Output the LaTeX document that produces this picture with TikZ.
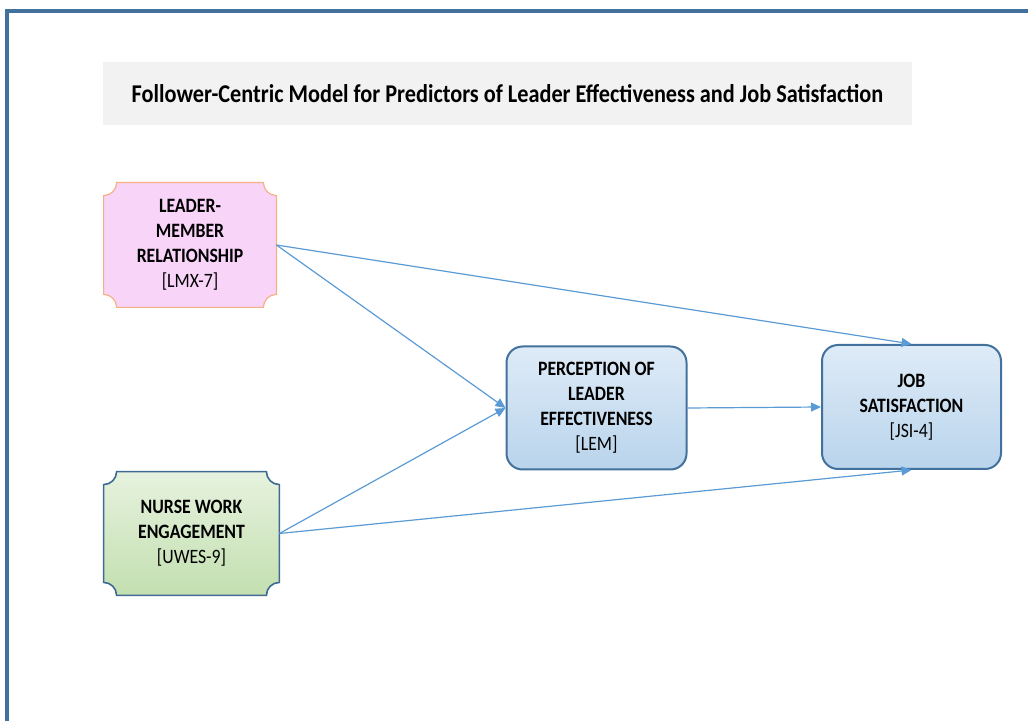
\documentclass[tikz,border=0pt]{standalone}
\usepackage{fontspec}
\setmainfont{Carlito}[FakeStretch=0.87]
\usepackage{tikz}
\usetikzlibrary{arrows.meta, positioning, calc, backgrounds}

\definecolor{framecol}{HTML}{41719C}
\definecolor{arrowcol}{HTML}{5B9BD5}
\definecolor{titlegray}{HTML}{F2F2F2}
\definecolor{lmxfill}{HTML}{F9D4F9}
\definecolor{lmxborder}{HTML}{F4B183}
\definecolor{nweborder}{HTML}{3E6A93}
\definecolor{nwetop}{HTML}{E6F2DE}
\definecolor{nwebottom}{HTML}{C3DFB0}
\definecolor{boxtop}{HTML}{DEEBF7}
\definecolor{boxbottom}{HTML}{B9D4EC}

% 凹角矩形：节点名, 半径, 样式
\newcommand{\plaque}[3]{%
  \draw[#3] ($(#1.north west)+(#2,0pt)$) -- ($(#1.north east)+(-#2,0pt)$)
    .. controls ($(#1.north east)+(-#2,-0.55*#2)$) and ($(#1.north east)+(-0.55*#2,-#2)$) .. ($(#1.north east)+(0pt,-#2)$)
    -- ($(#1.south east)+(0pt,#2)$)
    .. controls ($(#1.south east)+(-0.55*#2,#2)$) and ($(#1.south east)+(-#2,0.55*#2)$) .. ($(#1.south east)+(-#2,0pt)$)
    -- ($(#1.south west)+(#2,0pt)$)
    .. controls ($(#1.south west)+(#2,0.55*#2)$) and ($(#1.south west)+(0.55*#2,#2)$) .. ($(#1.south west)+(0pt,#2)$)
    -- ($(#1.north west)+(0pt,-#2)$)
    .. controls ($(#1.north west)+(0.55*#2,-#2)$) and ($(#1.north west)+(#2,-0.55*#2)$) .. ($(#1.north west)+(#2,0pt)$)
    -- cycle;
}

\begin{document}
\begin{tikzpicture}[x=0.5pt, y=-0.5pt,
  every node/.style={font=\bfseries\fontsize{10.2}{12.5}\selectfont, align=center},
  plaquebox/.style={minimum width=86pt, minimum height=62pt, inner sep=0pt},
  effbox/.style={draw=framecol, line width=1pt, rounded corners=8pt,
    top color=boxtop, bottom color=boxbottom,
    minimum width=90pt, minimum height=61.5pt, inner sep=0pt},
  link/.style={draw=arrowcol, line width=0.6pt, -{Triangle[length=5pt,width=4.5pt]}}]
  \useasboundingbox (0,0) rectangle (1028,721);
  \clip (0,0) rectangle (1028,721);

  % 外框
  \draw[framecol, line width=2pt] (7,11) rectangle (1060,760);

  % 标题
  \node[fill=titlegray, minimum width=404.5pt, minimum height=31.5pt,
    font=\bfseries\fontsize{12.8}{14}\selectfont] (title) at (507.5,93.5)
    {Follower-Centric Model for Predictors of Leader Effectiveness and Job Satisfaction};

  % 变量框
  \node[plaquebox] (lmx) at (190,245)
    {LEADER-\\MEMBER\\RELATIONSHIP\\{\mdseries [LMX-7]}};
  \node[plaquebox, minimum width=87.5pt, minimum height=61.5pt] (nwe) at (191.5,533.5)
    {NURSE WORK\\ENGAGEMENT\\{\mdseries [UWES-9]}};
  \node[effbox] (lem) at (596.5,408)
    {PERCEPTION OF\\LEADER\\EFFECTIVENESS\\{\mdseries [LEM]}};
  \node[effbox, minimum width=89.5pt, minimum height=62pt] (js) at (911.5,407)
    {JOB\\SATISFACTION\\{\mdseries [JSI-4]}};

  \begin{pgfonlayer}{background}
    \plaque{lmx}{6.5pt}{draw=lmxborder, line width=0.6pt, fill=lmxfill}
    \plaque{nwe}{6.5pt}{draw=nweborder, line width=0.8pt, top color=nwetop, bottom color=nwebottom}
  \end{pgfonlayer}

  % 箭头
  \draw[link] (lmx.east) -- (js.north);
  \draw[link] (lmx.east) -- (lem.west);
  \draw[link] (nwe.east) -- (lem.west);
  \draw[link] (nwe.east) -- (js.south);
  \draw[link] (lem.east) -- (js.west);
\end{tikzpicture}
\end{document}
